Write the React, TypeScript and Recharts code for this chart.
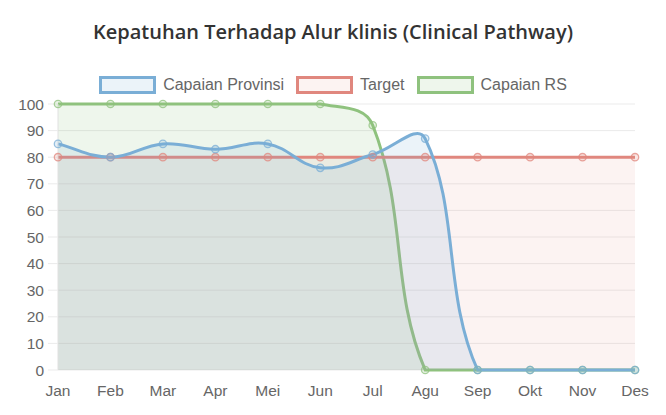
import React from 'react';
import { AreaChart, Area, XAxis, YAxis, CartesianGrid } from 'recharts';

// =============================================================================
// Data
// =============================================================================

const MONTHS = ['Jan', 'Feb', 'Mar', 'Apr', 'Mei', 'Jun', 'Jul', 'Agu', 'Sep', 'Okt', 'Nov', 'Des'];
const CAPAIAN_PROVINSI = [85, 80, 85, 83, 85, 76, 81, 87, 0, 0, 0, 0];
const TARGET = [80, 80, 80, 80, 80, 80, 80, 80, 80, 80, 80, 80];
const CAPAIAN_RS = [100, 100, 100, 100, 100, 100, 92, 0, 0, 0, 0, 0];
const Y_TICKS = [0, 10, 20, 30, 40, 50, 60, 70, 80, 90, 100];

const data = MONTHS.map((m, i) => ({
  month: m,
  provinsi: CAPAIAN_PROVINSI[i],
  target: TARGET[i],
  rs: CAPAIAN_RS[i],
}));

// =============================================================================
// Layout / style
// =============================================================================

const W = 666;
const H = 415;
const MARGIN = { top: 104, right: 31, bottom: 15, left: 0 };
const X_AXIS_H = 30;
const Y_AXIS_W = 58;
const PLOT_TOP = MARGIN.top;
const PLOT_BOTTOM = H - MARGIN.bottom - X_AXIS_H;
const TICK_FONT = '"Liberation Sans", Arial, sans-serif';

const SERIES = [
  { key: 'rs', name: 'Capaian RS', color: '#8fc27e', fill: '#8fc27e', fillOpacity: 0.15 },
  { key: 'target', name: 'Target', color: '#e0877e', fill: '#e0877e', fillOpacity: 0.1 },
  { key: 'provinsi', name: 'Capaian Provinsi', color: '#7aaed6', fill: '#7aaed6', fillOpacity: 0.15 },
];

const LEGEND_ORDER = ['provinsi', 'target', 'rs'];

// =============================================================================
// Chart.js-like bezier curve (tension 0.4, control points capped to plot area)
// =============================================================================

function chartjsCurve(context: any) {
  let pts: { x: number; y: number }[] = [];
  let line = NaN;
  const t = 0.4;
  const cap = (v: number) => Math.max(PLOT_TOP, Math.min(PLOT_BOTTOM, v));

  return {
    areaStart() {
      line = 0;
    },
    areaEnd() {
      line = NaN;
    },
    lineStart() {
      pts = [];
    },
    lineEnd() {
      const n = pts.length;
      if (n) {
        const cps = pts.map((cur, i) => {
          const prev = i > 0 ? pts[i - 1] : cur;
          const next = i < n - 1 ? pts[i + 1] : cur;
          const d01 = Math.hypot(cur.x - prev.x, cur.y - prev.y);
          const d12 = Math.hypot(next.x - cur.x, next.y - cur.y);
          let s01 = d01 / (d01 + d12);
          let s12 = d12 / (d01 + d12);
          if (isNaN(s01)) s01 = 0;
          if (isNaN(s12)) s12 = 0;
          const fa = t * s01;
          const fb = t * s12;
          return {
            px: cur.x - fa * (next.x - prev.x),
            py: cap(cur.y - fa * (next.y - prev.y)),
            nx: cur.x + fb * (next.x - prev.x),
            ny: cap(cur.y + fb * (next.y - prev.y)),
          };
        });
        if (line) context.lineTo(pts[0].x, pts[0].y);
        else context.moveTo(pts[0].x, pts[0].y);
        for (let i = 1; i < n; i++) {
          context.bezierCurveTo(cps[i - 1].nx, cps[i - 1].ny, cps[i].px, cps[i].py, pts[i].x, pts[i].y);
        }
      }
      if (line || (line !== 0 && n === 1)) context.closePath();
      line = 1 - line;
    },
    point(x: number, y: number) {
      pts.push({ x: +x, y: +y });
    },
  };
}

// =============================================================================
// Component
// =============================================================================

export default function App() {
  return (
    <div style={{ position: 'absolute', left: 0, top: 0, width: W, height: H, background: '#fff' }}>
      <div
        style={{
          position: 'absolute',
          top: 18,
          left: 0,
          width: W,
          textAlign: 'center',
          fontFamily: '"Open Sans", sans-serif',
          fontWeight: 600,
          fontSize: 20,
          color: '#333',
        }}
      >
        Kepatuhan Terhadap Alur klinis (Clinical Pathway)
      </div>

      <div
        style={{
          position: 'absolute',
          top: 76,
          left: 0,
          width: W,
          display: 'flex',
          justifyContent: 'center',
          alignItems: 'center',
          fontFamily: TICK_FONT,
          fontSize: 16,
          color: '#666',
        }}
      >
        {LEGEND_ORDER.map((k) => {
          const s = SERIES.find((x) => x.key === k)!;
          return (
            <div key={k} style={{ display: 'flex', alignItems: 'center', margin: '0 6px' }}>
              <div
                style={{
                  width: 51,
                  height: 12,
                  border: `3px solid ${s.color}`,
                  background: `rgba(${hexRgb(s.fill)},${s.fillOpacity})`,
                  marginRight: 7,
                }}
              />
              <span>{s.name}</span>
            </div>
          );
        })}
      </div>

      <div style={{ position: 'absolute', left: 0, top: 0 }}>
        <AreaChart width={W} height={H} data={data} margin={MARGIN}>
          <CartesianGrid vertical={false} stroke="#ebebeb" />
          <XAxis
            dataKey="month"
            height={X_AXIS_H}
            axisLine={false}
            tickLine={false}
            tickSize={10}
            tickMargin={5}
            interval={0}
            tick={{ fill: '#666', fontSize: 15.5, fontFamily: TICK_FONT }}
          />
          <YAxis
            width={Y_AXIS_W}
            domain={[0, 100]}
            ticks={Y_TICKS}
            interval={0}
            axisLine={{ stroke: '#e0e0e0' }}
            tickLine={{ stroke: '#ebebeb' }}
            tickSize={10}
            tickMargin={4}
            tick={{ fill: '#666', fontSize: 15.5, fontFamily: TICK_FONT }}
          />
          {SERIES.map((s) => (
            <Area
              key={s.key}
              dataKey={s.key}
              name={s.name}
              type={chartjsCurve as any}
              stroke={s.color}
              strokeWidth={3}
              fill={s.fill}
              fillOpacity={s.fillOpacity}
              baseValue={0}
              dot={{
                r: 3.7,
                stroke: s.color,
                strokeWidth: 1.3,
                strokeOpacity: 0.75,
                fill: s.fill,
                fillOpacity: 0.2,
              }}
              activeDot={false}
              isAnimationActive={false}
            />
          ))}
        </AreaChart>
      </div>
    </div>
  );
}

function hexRgb(hex: string): string {
  const v = parseInt(hex.slice(1), 16);
  return `${(v >> 16) & 255},${(v >> 8) & 255},${v & 255}`;
}
